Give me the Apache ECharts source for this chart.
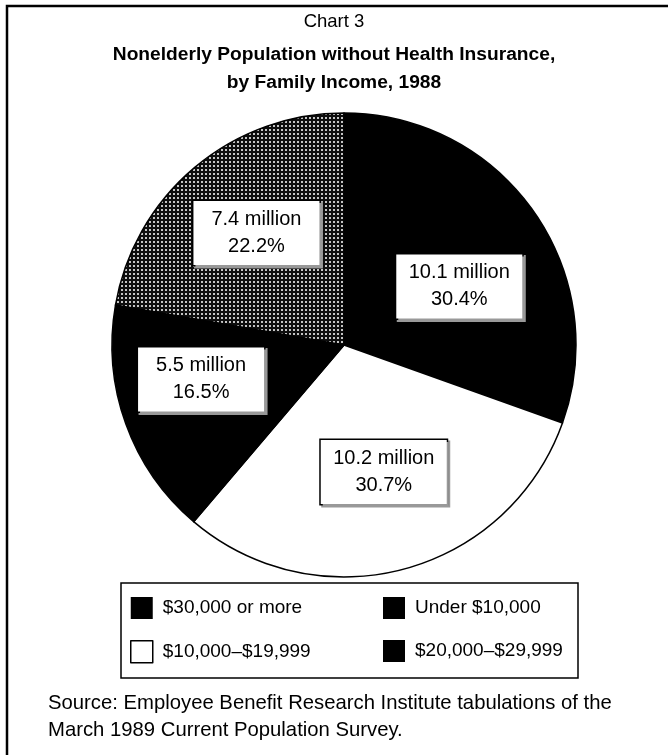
<!DOCTYPE html>
<html>
<head>
<meta charset="utf-8">
<script src="https://cdn.jsdelivr.net/npm/echarts@6/dist/echarts.min.js"></script>
<style>
html,body{margin:0;padding:0;background:#fff;}
#chart{width:668px;height:755px;}
</style>
</head>
<body>
<div id="chart"></div>
<script>
var categories = ['$30,000 or more', '$10,000\u2013$19,999', '$20,000\u2013$29,999', 'Under $10,000'];
var millions = [10.1, 10.2, 5.5, 7.4];
var percents = [30.4, 30.7, 16.5, 22.2];
var legendLeft = ['$30,000 or more', '$10,000\u2013$19,999'];
var legendRight = ['Under $10,000', '$20,000\u2013$29,999'];

var FONT = '"Liberation Sans", Arial, Helvetica, sans-serif';

// dotted pattern
var pc = document.createElement('canvas');
pc.width = 4; pc.height = 4;
var pctx = pc.getContext('2d');
pctx.fillStyle = '#0d0d0d';
pctx.fillRect(0, 0, 4, 4);
pctx.fillStyle = '#c4c4c4';
pctx.fillRect(1, 1, 2, 2);

var fills = ['#000', '#fff', '#000', {image: pc, repeat: 'repeat'}];
var labelOffsets = [[18, 10], [9, 12], [-31, -6], [-11, -21]];

var pieData = categories.map(function (c, i) {
  return {
    name: c,
    value: percents[i],
    itemStyle: {color: fills[i]},
    label: {offset: labelOffsets[i]}
  };
});

function legendItem(name) {
  var isWhite = name === '$10,000\u2013$19,999';
  return {
    name: name,
    itemStyle: isWhite ? {color: '#fff', borderColor: '#000', borderWidth: 1.5} : {color: '#000', borderColor: '#000', borderWidth: 0}
  };
}

var legendBase = {
  orient: 'vertical',
  padding: 0,
  itemWidth: 22,
  itemHeight: 22,
  itemGap: 21,
  icon: 'rect',
  selectedMode: false,
  textStyle: {fontFamily: FONT, fontSize: 19, color: '#000', padding: [0, 0, 0, 5]}
};

var chart = echarts.init(document.getElementById('chart'), null, {renderer: 'canvas'});
chart.setOption({
  backgroundColor: '#fff',
  animation: false,
  title: [
    {text: 'Chart 3', left: 'center', top: 12, padding: 0, textStyle: {fontFamily: FONT, fontSize: 18.5, fontWeight: 'normal', color: '#000'}},
    {text: 'Nonelderly Population without Health Insurance,', left: 'center', top: 45, padding: 0, textStyle: {fontFamily: FONT, fontSize: 19.2, fontWeight: 'bold', color: '#000'}},
    {text: 'by Family Income, 1988', left: 'center', top: 73, padding: 0, textStyle: {fontFamily: FONT, fontSize: 19.2, fontWeight: 'bold', color: '#000'}},
    {text: 'Source: Employee Benefit Research Institute tabulations of the', left: 48, top: 693, padding: 0, textStyle: {fontFamily: FONT, fontSize: 20.3, fontWeight: 'normal', color: '#000'}},
    {text: 'March 1989 Current Population Survey.', left: 48, top: 720, padding: 0, textStyle: {fontFamily: FONT, fontSize: 20.3, fontWeight: 'normal', color: '#000'}}
  ],
  legend: [
    Object.assign({}, legendBase, {left: 130, top: 597, data: legendLeft.map(legendItem)}),
    Object.assign({}, legendBase, {left: 383, top: 597, data: legendRight.map(legendItem)})
  ],
  graphic: [
    {type: 'rect', shape: {x: 7, y: 6, width: 720, height: 820}, style: {fill: 'none', stroke: '#000', lineWidth: 2.5}, silent: true},
    {type: 'rect', shape: {x: 121, y: 583, width: 457, height: 95}, style: {fill: 'none', stroke: '#000', lineWidth: 1.5}, silent: true}
  ],
  series: [{
    type: 'pie',
    center: [344, 345],
    radius: 232,
    startAngle: 90,
    clockwise: true,
    avoidLabelOverlap: false,
    silent: true,
    itemStyle: {borderColor: '#000', borderWidth: 1.5},
    label: {
      show: true,
      position: 'inside',
      formatter: function (p) {
        return millions[p.dataIndex].toFixed(1) + ' million\n' + percents[p.dataIndex].toFixed(1) + '%';
      },
      fontFamily: FONT,
      fontSize: 20,
      lineHeight: 27,
      color: '#000',
      align: 'center',
      width: 110,
      overflow: 'none',
      backgroundColor: '#fff',
      borderColor: '#000',
      borderWidth: 1.5,
      padding: [5, 8],
      shadowColor: '#999',
      shadowBlur: 0,
      shadowOffsetX: 2,
      shadowOffsetY: 2
    },
    labelLine: {show: false},
    data: pieData
  }]
});
</script>
</body>
</html>
